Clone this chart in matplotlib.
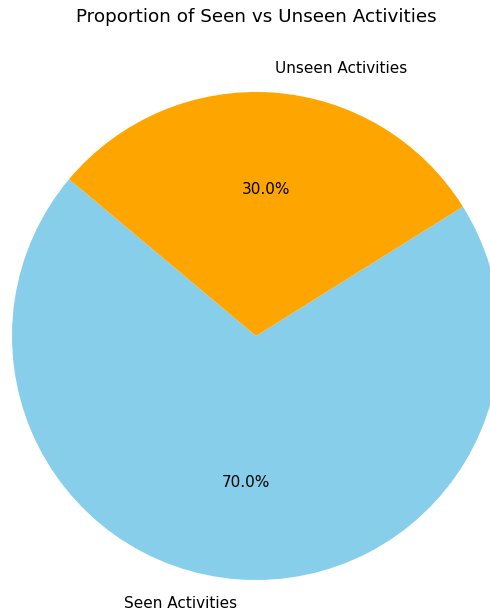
import matplotlib
matplotlib.use('Agg')
import matplotlib.pyplot as plt

# 数据
labels = ['Seen Activities', 'Unseen Activities']
sizes = [70, 30]
colors = ['skyblue', 'orange']

W, H = 490, 612
cx, cy, r = 256, 276, 244  # 像素坐标：饼图中心与半径
span = 1.25

fig = plt.figure(figsize=(W / 100, H / 100), dpi=100)
ax = fig.add_axes([(cx - r * span) / W, (cy - r * span) / H,
                   2 * r * span / W, 2 * r * span / H])
ax.pie(sizes, labels=labels, colors=colors, autopct='%1.1f%%', startangle=140,
       textprops={'fontsize': 11})
ax.set_xlim(-span, span)
ax.set_ylim(-span, span)

# 标题居中于饼图中心
fig.text(cx / W, 1 - 17 / H, 'Proportion of Seen vs Unseen Activities',
         ha='center', va='center', fontsize=13.2)

fig.savefig('out.png', dpi=100)
